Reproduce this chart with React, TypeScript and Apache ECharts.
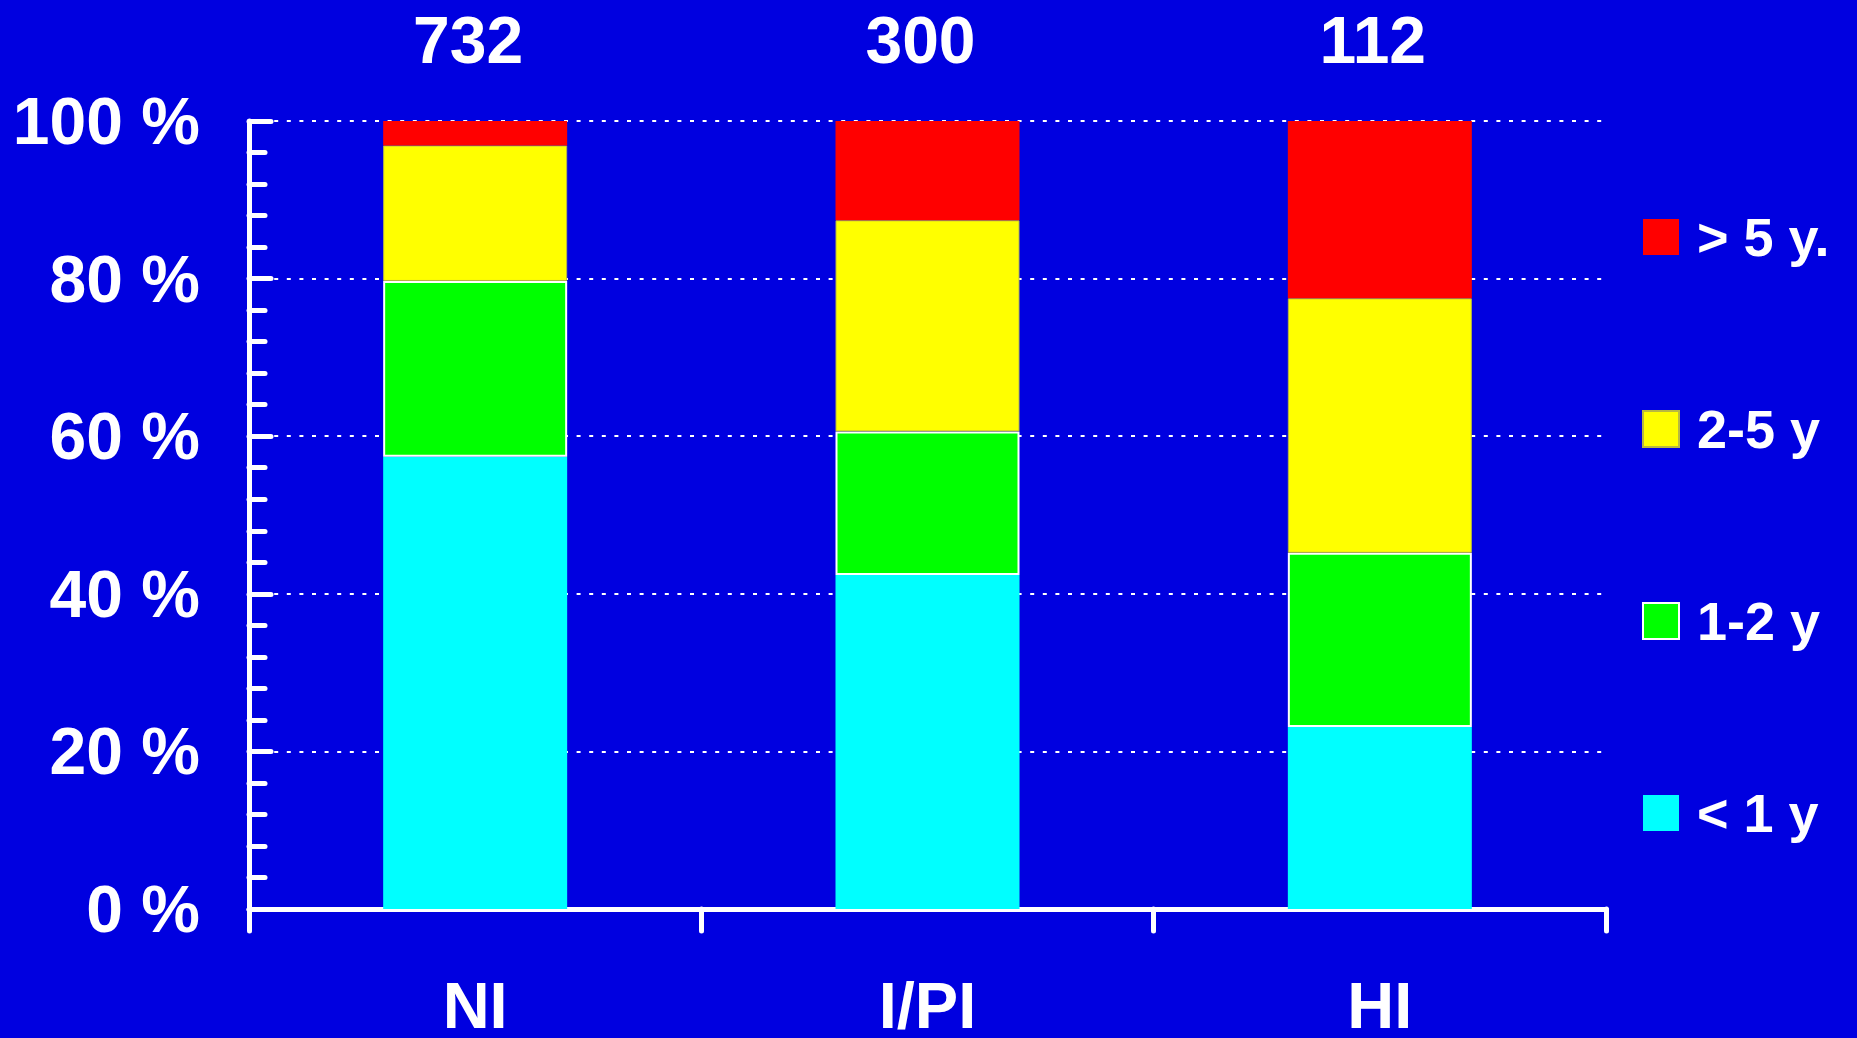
import React, { useEffect, useRef } from "react";
import * as echarts from "echarts";

const categories = ["NI", "I/PI", "HI"];
const totals = ["732", "300", "112"];
const lessThan1 = [57.4, 42.4, 23.1];
const oneToTwo = [22.3, 18.2, 22.1];
const twoToFive = [17.2, 26.8, 32.3];
const moreThan5 = [3.1, 12.6, 22.5];
const seriesNames = ["< 1 y", "1-2 y", "2-5 y", "> 5 y."];
const legendOrder = ["> 5 y.", "2-5 y", "1-2 y", "< 1 y"];

const BG = "#0000E0";
const FONT = "'Liberation Sans', Arial, sans-serif";

export default function App() {
  const ref = useRef<HTMLDivElement>(null);
  useEffect(() => {
    if (!ref.current) return;
    const chart = echarts.init(ref.current, null, { renderer: "svg" });
    const white = "#FFFFFF";
    const mk = (name: string, data: number[], color: string, border?: { c: string; w: number }) => ({
      name,
      type: "bar",
      stack: "total",
      data,
      barWidth: 184,
      itemStyle: {
        color,
        borderColor: border ? border.c : color,
        borderWidth: border ? border.w : 0,
      },
      emphasis: { disabled: true },
    });
    chart.setOption({
      animation: false,
      backgroundColor: BG,
      grid: { left: 249, right: 251, top: 121, bottom: 126, containLabel: false },
      legend: {
        orient: "vertical",
        left: 1637,
        top: 205,
        data: legendOrder,
        icon: "rect",
        itemWidth: 36,
        itemHeight: 36,
        itemGap: 138,
        selectedMode: false,
        textStyle: {
          color: white,
          fontFamily: FONT,
          fontWeight: "bold",
          fontSize: 54,
          lineHeight: 54,
          padding: [0, 0, 0, 13],
        },
      },
      xAxis: [
        {
          type: "category",
          data: categories,
          position: "bottom",
          axisLine: { lineStyle: { color: white, width: 5, cap: "round" } },
          axisTick: { show: true, length: 22, lineStyle: { color: white, width: 5, cap: "round" } },
          axisLabel: {
            color: white,
            fontFamily: FONT,
            fontWeight: "bold",
            fontSize: 65,
            margin: 64,
          },
          splitLine: { show: false },
        },
        {
          type: "category",
          data: totals,
          position: "top",
          axisLine: { show: false },
          axisTick: { show: false },
          axisLabel: {
            color: white,
            fontFamily: FONT,
            fontWeight: "bold",
            fontSize: 66,
            margin: 48,
            padding: [0, 14, 0, 0],
          },
          splitLine: { show: false },
        },
      ],
      yAxis: {
        type: "value",
        min: 0,
        max: 100,
        interval: 20,
        axisLine: { show: true, lineStyle: { color: white, width: 5, cap: "round" } },
        axisTick: { show: true, inside: true, length: 22, lineStyle: { color: white, width: 5, cap: "round" } },
        minorTick: { show: true, splitNumber: 5, length: 16, lineStyle: { color: white, width: 5, cap: "round" } },
        axisLabel: {
          color: white,
          fontFamily: FONT,
          fontWeight: "bold",
          fontSize: 66,
          margin: 49,
          formatter: "{value} %",
        },
        splitLine: {
          show: true,
          lineStyle: { color: white, width: 2, type: [4, 8.6] },
        },
      },
      series: [
        mk(seriesNames[0], lessThan1, "#00FFFF"),
        mk(seriesNames[1], oneToTwo, "#00FF00", { c: white, w: 2 }),
        mk(seriesNames[2], twoToFive, "#FFFF00", { c: "#B8B840", w: 1 }),
        mk(seriesNames[3], moreThan5, "#FF0000"),
      ],
    });
    return () => chart.dispose();
  }, []);
  return (
    <div
      ref={ref}
      style={{ position: "fixed", left: 0, top: 0, width: 1857, height: 1038, background: BG }}
    />
  );
}
